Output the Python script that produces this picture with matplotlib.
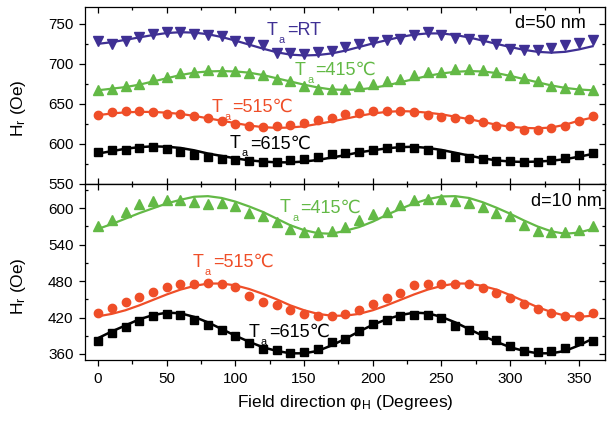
import numpy as np
import matplotlib
matplotlib.use('Agg')
import matplotlib.pyplot as plt
from matplotlib.ticker import MultipleLocator

FAM = ['Liberation Sans', 'DejaVu Sans']
plt.rcParams['font.family'] = FAM
plt.rcParams['mathtext.fontset'] = 'custom'
plt.rcParams['mathtext.rm'] = 'Liberation Sans'
plt.rcParams['mathtext.it'] = 'Liberation Sans:italic'
plt.rcParams['mathtext.bf'] = 'Liberation Sans:bold'

BLUE = '#3f3094'
GREEN = '#63b946'
RED = '#ef4e28'
BLACK = '#000000'

# field angle (degrees), measured every 10 deg
angles = np.arange(0, 361, 10)

# ---- d = 50 nm : measured points ----
rt_50 = [729, 725, 729, 734, 737.5, 740, 740, 737, 736, 735, 729, 727, 724, 714,
         713, 712.5, 714.5, 716.5, 721, 725, 727, 729.5, 731, 736, 740, 736, 732,
         731, 730, 725, 719, 717, 717, 720, 724, 726, 730]
t415_50 = [667, 668, 672, 675, 681, 684, 688, 690, 692, 691, 691, 688, 686, 681,
           678, 672, 669, 668, 668, 672, 675, 678, 681, 686, 690, 690, 694, 694,
           692, 690, 686, 682, 678, 672, 670, 668, 667]
t515_50 = [636, 639.5, 641, 641, 640, 638, 637, 635, 632, 629, 625, 623, 621, 622,
           624, 626, 630, 633, 637, 639, 641, 641, 641, 640, 636, 634, 632, 631,
           627, 623, 622, 618, 618, 620, 623, 629, 635]
t615_50 = [589.5, 592, 593, 595, 596, 594, 590, 586, 584, 581, 580, 579, 578, 578,
           580, 581, 584, 587, 589, 590, 592, 595, 596, 595, 592, 588, 584, 582,
           581, 579, 579, 578, 578, 580, 582, 586, 589]

# ---- d = 50 nm : fitted curves ----
rt_50_fit = [725, 727, 730, 733, 736, 738.5, 739.5, 739, 737, 733.5, 729, 724, 719,
             714.5, 711.5, 710.5, 711, 713, 716.5, 721, 725.5, 729.5, 733.5, 736.5,
             738, 738, 736, 733, 729, 725, 721, 717.5, 715, 714, 715, 718, 722]
t415_50_fit = [667, 669, 671, 674, 678, 682, 686, 689, 690.5, 691, 690.5, 689, 686,
               682, 678, 674, 670.5, 668, 667.5, 668, 670, 673, 677, 681, 685, 688,
               690, 691, 690.5, 688.5, 685, 681, 677, 673, 670, 668, 667]
t515_50_fit = [636, 638, 639.5, 640, 640, 639, 637.5, 635, 632, 629, 626, 623, 621,
               620, 620.5, 622, 625, 628, 631.5, 635, 638, 640, 641, 640.5, 639, 637,
               634, 631, 627.5, 624, 621.5, 620, 619.5, 620.5, 624, 629, 633]
t615_50_fit = [588, 591, 594, 596, 597, 596.5, 595, 592, 588, 585, 582, 579.5, 578,
               577, 577, 578, 580, 583, 586, 589.5, 592, 594.5, 596, 596.5, 595, 592.5,
               589, 585.5, 582, 579.5, 578, 577.5, 578, 579, 581, 584, 587.5]

# ---- d = 10 nm : measured points ----
t415_10 = [570, 580, 594, 607, 612, 614, 614, 610, 607, 608, 603, 593, 587, 577,
           566, 560.5, 561, 563, 569, 581, 590, 594, 605, 614, 616, 616, 612.5, 608,
           601.5, 593, 588, 572.5, 563, 561.5, 560.5, 564, 570]
t515_10 = [427, 435.5, 445, 454, 462, 471, 475.5, 475.5, 477.5, 475.5, 470, 456, 445,
           440, 432, 426, 423, 422, 426, 432.5, 442.5, 452, 461, 473, 475.5, 475,
           475.5, 475, 468.5, 460, 452, 442.5, 434, 427, 423, 422, 427]
t615_10 = [382, 394, 404, 413.5, 422, 426, 424.5, 416, 408, 399, 389, 378, 368.5, 366,
           361.5, 363, 368.5, 379, 384.5, 397, 410, 416, 423, 424.5, 424.5, 419, 406,
           399, 392, 383.5, 373.5, 365, 362.5, 365, 370, 380.5, 382]

# ---- d = 10 nm : fitted curves ----
t415_10_fit = [566, 574, 583, 592, 600, 608, 614, 619, 620, 617, 611, 603, 594, 583,
               572, 564, 559, 558, 563, 569, 578, 589, 599, 608, 615, 619.5, 620, 617,
               610, 601, 591, 580, 570, 562, 558, 560, 566]
t515_10_fit = [422, 426, 432, 440, 449, 458, 466, 472, 476, 476, 473, 467, 459, 450,
               440, 432, 426, 423, 423, 426, 432, 440, 449, 458, 466, 472, 476, 476,
               472, 466, 457, 447, 437, 429, 423, 421, 423]
t615_10_fit = [386, 397, 407, 417, 424, 428, 427, 421, 412, 401, 390, 380, 371, 365,
               361, 361, 365, 374, 385, 397, 408, 417, 424, 428, 427, 421, 412, 401,
               390, 380, 371, 365, 361, 361, 365, 374, 385]


def style_axes(ax, y_major, y_minor, show_x_labels):
    for sp in ax.spines.values():
        sp.set_linewidth(0.9)
    ax.set_xlim(-9.5, 369)
    ax.xaxis.set_major_locator(MultipleLocator(50))
    ax.xaxis.set_minor_locator(MultipleLocator(25))
    ax.yaxis.set_major_locator(MultipleLocator(y_major))
    ax.yaxis.set_minor_locator(MultipleLocator(y_minor))
    # left: major out, minor in
    ax.tick_params(axis='y', which='major', direction='out', length=4.3, width=0.9,
                   labelsize=11, pad=4, right=False)
    ax.tick_params(axis='y', which='minor', direction='in', length=2.5, width=0.9,
                   right=False)
    if show_x_labels:
        ax.tick_params(axis='x', which='major', direction='out', length=4, width=0.9,
                       labelsize=11, pad=5, top=False)
        ax.tick_params(axis='x', which='minor', direction='out', length=3, width=0.9,
                       top=False)
        top = ax.secondary_xaxis('top')
        top.xaxis.set_major_locator(MultipleLocator(50))
        top.xaxis.set_minor_locator(MultipleLocator(25))
        top.tick_params(which='major', direction='in', length=4.3, width=0.9,
                        labeltop=False)
        top.tick_params(which='minor', direction='in', length=2.5, width=0.9)
    else:
        ax.tick_params(axis='x', which='major', direction='in', length=4.3, width=0.9,
                       top=True, labelbottom=False)
        ax.tick_params(axis='x', which='minor', direction='in', length=2.5, width=0.9,
                       top=True)
    right = ax.secondary_yaxis('right')
    right.yaxis.set_major_locator(MultipleLocator(y_major))
    right.yaxis.set_minor_locator(MultipleLocator(y_minor))
    right.tick_params(which='major', direction='in', length=4.3, width=0.9,
                      labelright=False)
    right.tick_params(which='minor', direction='in', length=2.5, width=0.9)


def ta_label(ax, x, y, rest, color, size=13):
    t1 = ax.text(x, y, 'T', color=color, fontsize=size, family=FAM)
    t2 = ax.annotate('a', xy=(1, 0), xycoords=t1, xytext=(0.8, -3),
                     textcoords='offset points', fontsize=size * 0.6,
                     color=color, family=FAM, va='baseline')
    ax.annotate(rest, xy=(1, 0), xycoords=(t2, t1), xytext=(1.6, 0),
                textcoords='offset points', fontsize=size, color=color,
                family=FAM, va='bottom')


fig = plt.figure(figsize=(6.08, 4.21), dpi=100)
ax1 = fig.add_axes([0.1398, 0.563, 0.8552, 0.4204])
ax2 = fig.add_axes([0.1398, 0.1449, 0.8552, 0.418])

# top panel, d = 50 nm
ax1.plot(angles, rt_50_fit, color=BLUE, lw=1.6)
ax1.plot(angles, rt_50, 'v', color=BLUE, ms=7, ls='none')
ax1.plot(angles, t415_50_fit, color=GREEN, lw=1.6)
ax1.plot(angles, t415_50, '^', color=GREEN, ms=7, ls='none')
ax1.plot(angles, t515_50_fit, color=RED, lw=1.6)
ax1.plot(angles, t515_50, 'o', color=RED, ms=6, ls='none')
ax1.plot(angles, t615_50_fit, color=BLACK, lw=1.8)
ax1.plot(angles, t615_50, 's', color=BLACK, ms=5.5, ls='none')
ax1.set_ylim(550, 771)
style_axes(ax1, 50, 25, False)

ta_label(ax1, 122.8, 736.3, '=RT', BLUE)
ta_label(ax1, 143.4, 686, '=415℃', GREEN)
ta_label(ax1, 83, 640.4, '=515℃', RED)
ta_label(ax1, 96, 594.6, '=615℃', BLACK)
ax1.text(0.963, 0.881, 'd=50 nm', transform=ax1.transAxes, ha='right',
         va='baseline', fontsize=13)

# bottom panel, d = 10 nm
ax2.plot(angles, t415_10_fit, color=GREEN, lw=1.6)
ax2.plot(angles, t415_10, '^', color=GREEN, ms=7, ls='none')
ax2.plot(angles, t515_10_fit, color=RED, lw=1.6)
ax2.plot(angles, t515_10, 'o', color=RED, ms=6, ls='none')
ax2.plot(angles, t615_10_fit, color=BLACK, lw=1.8)
ax2.plot(angles, t615_10, 's', color=BLACK, ms=5.5, ls='none')
ax2.set_ylim(350, 640)
style_axes(ax2, 60, 30, True)

ta_label(ax2, 132.5, 593.2, '=415℃', GREEN)
ta_label(ax2, 69, 503.8, '=515℃', RED)
ta_label(ax2, 109.4, 388.5, '=615℃', BLACK)
ax2.text(0.994, 0.875, 'd=10 nm', transform=ax2.transAxes, ha='right',
         va='baseline', fontsize=13)

ax2.set_xlabel(r'Field direction $\mathrm{φ_H}$ (Degrees)', fontsize=12.5, labelpad=5)
ax1.set_ylabel(r'H$_\mathrm{r}$ (Oe)', fontsize=12.5)
ax2.set_ylabel(r'H$_\mathrm{r}$ (Oe)', fontsize=12.5)
ax1.yaxis.set_label_coords(-0.11, 0.43)
ax2.yaxis.set_label_coords(-0.11, 0.42)

fig.savefig('out.png', dpi=100)
